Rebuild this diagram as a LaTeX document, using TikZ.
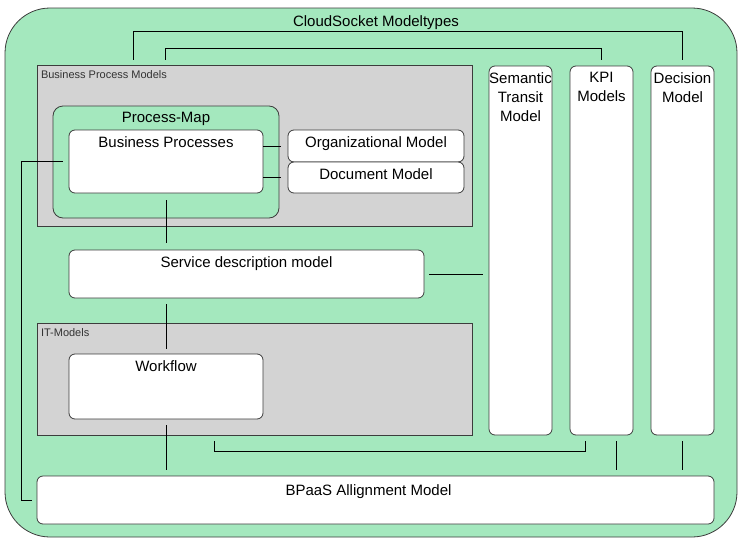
\documentclass[tikz,border=0pt]{standalone}
\usepackage{fontspec}
\setmainfont{Liberation Sans}
\definecolor{cloudgreen}{RGB}{164,232,190}
\definecolor{boxgray}{RGB}{211,211,211}
\definecolor{edgegray}{RGB}{60,60,60}
\tikzset{
  model/.style={draw=edgegray, fill=white, rounded corners=6pt, inner sep=0pt},
  group/.style={draw=edgegray, fill=boxgray, inner sep=0pt},
  head/.style={anchor=north, yshift=-6.5pt, inner sep=0pt, align=center, font=\fontsize{15}{19}\selectfont},
  tag/.style={anchor=north west, xshift=4pt, yshift=-6pt, inner sep=0pt, text=black!80, font=\fontsize{11}{13}\selectfont},
}
\begin{document}
\begin{tikzpicture}[x=1pt, y=-1pt, line width=0.8pt]
  \useasboundingbox (0,0) rectangle (738,538);
  \node [draw=edgegray, fill=cloudgreen, rounded corners=45pt, inner sep=0pt, minimum width=732pt, minimum height=529pt,
    label={[head, xshift=5pt, yshift=-1.5pt]north:CloudSocket Modeltypes}] (cloud) at (371,272.5) {};
  % groups
  \node [group, minimum width=435pt, minimum height=161pt, label={[tag]north west:Business Process Models}] (bpm) at (254.5,145.5) {};
  \node [group, minimum width=435pt, minimum height=112pt, label={[tag]north west:IT-Models}] (itm) at (254.5,379) {};
  \node [draw=edgegray, fill=cloudgreen, rounded corners=10pt, inner sep=0pt, minimum width=226pt, minimum height=112pt,
    label={[head]north:Process-Map}] (pmap) at (166,162) {};
  % models
  \node [model, minimum width=194pt, minimum height=63pt, label={[head]north:Business Processes}] (bp) at (166,161.5) {};
  \node [model, minimum width=176pt, minimum height=32pt, label={[head]north:Organizational Model}] (org) at (376,146) {};
  \node [model, minimum width=176pt, minimum height=31pt, label={[head]north:Document Model}] (doc) at (376,177.5) {};
  \node [model, minimum width=355pt, minimum height=48pt, label={[head]north:Service description model}] (sdm) at (246.5,274) {};
  \node [model, minimum width=194pt, minimum height=65pt, label={[head]north:Workflow}] (wf) at (166,386.5) {};
  \node [model, minimum width=677pt, minimum height=48pt, label={[head, xshift=-7pt, yshift=-2.5pt]north:BPaaS Allignment Model}] (bpaas) at (375.5,500) {};
  \node [model, minimum width=63pt, minimum height=369pt, label={[head]north:Semantic\\Transit\\Model}] (sem) at (520.5,250.5) {};
  \node [model, minimum width=63pt, minimum height=369pt, label={[head]north:KPI\\Models}] (kpi) at (601.5,250.5) {};
  \node [model, minimum width=63pt, minimum height=369pt, label={[head]north:Decision\\Model}] (dec) at (682.5,250.5) {};
  % connectors
  \draw ([xshift=97pt,yshift=5pt]bpm.north west) |- ([yshift=34pt]dec.north) -- ([yshift=6pt]dec.north);
  \draw ([xshift=129pt,yshift=5pt]bpm.north west) |- ([yshift=17pt]kpi.north) -- ([yshift=6pt]kpi.north);
  \draw ([xshift=-7pt]org.west) -- (org.west -| bp.east);
  \draw ([xshift=-7pt]doc.west) -- (doc.west -| bp.east);
  \draw ([yshift=-7pt]bp.south) -- ([yshift=7pt]bp.south |- sdm.north);
  \draw ([xshift=5pt]sdm.east) -- ([xshift=-6pt]sdm.east -| sem.west);
  \draw ([yshift=-6pt]sdm.south -| wf.north) -- ([yshift=5pt]wf.north);
  \draw ([yshift=-6pt]wf.south) -- ([yshift=6pt]wf.south |- bpaas.north);
  \draw ([xshift=178pt,yshift=-6pt]itm.south west) |- ([xshift=-16pt,yshift=-16pt]kpi.south) -- ([xshift=-16pt,yshift=-6pt]kpi.south);
  \draw ([xshift=15pt,yshift=-6pt]kpi.south) -- ([xshift=15pt,yshift=6pt]kpi.south |- bpaas.north);
  \draw ([yshift=-6pt]dec.south) -- ([yshift=6pt]dec.south |- bpaas.north);
  \draw ([xshift=-6pt]bp.west) -- ++(-41,0) |- ([xshift=-5pt]bpaas.west);
\end{tikzpicture}
\end{document}
